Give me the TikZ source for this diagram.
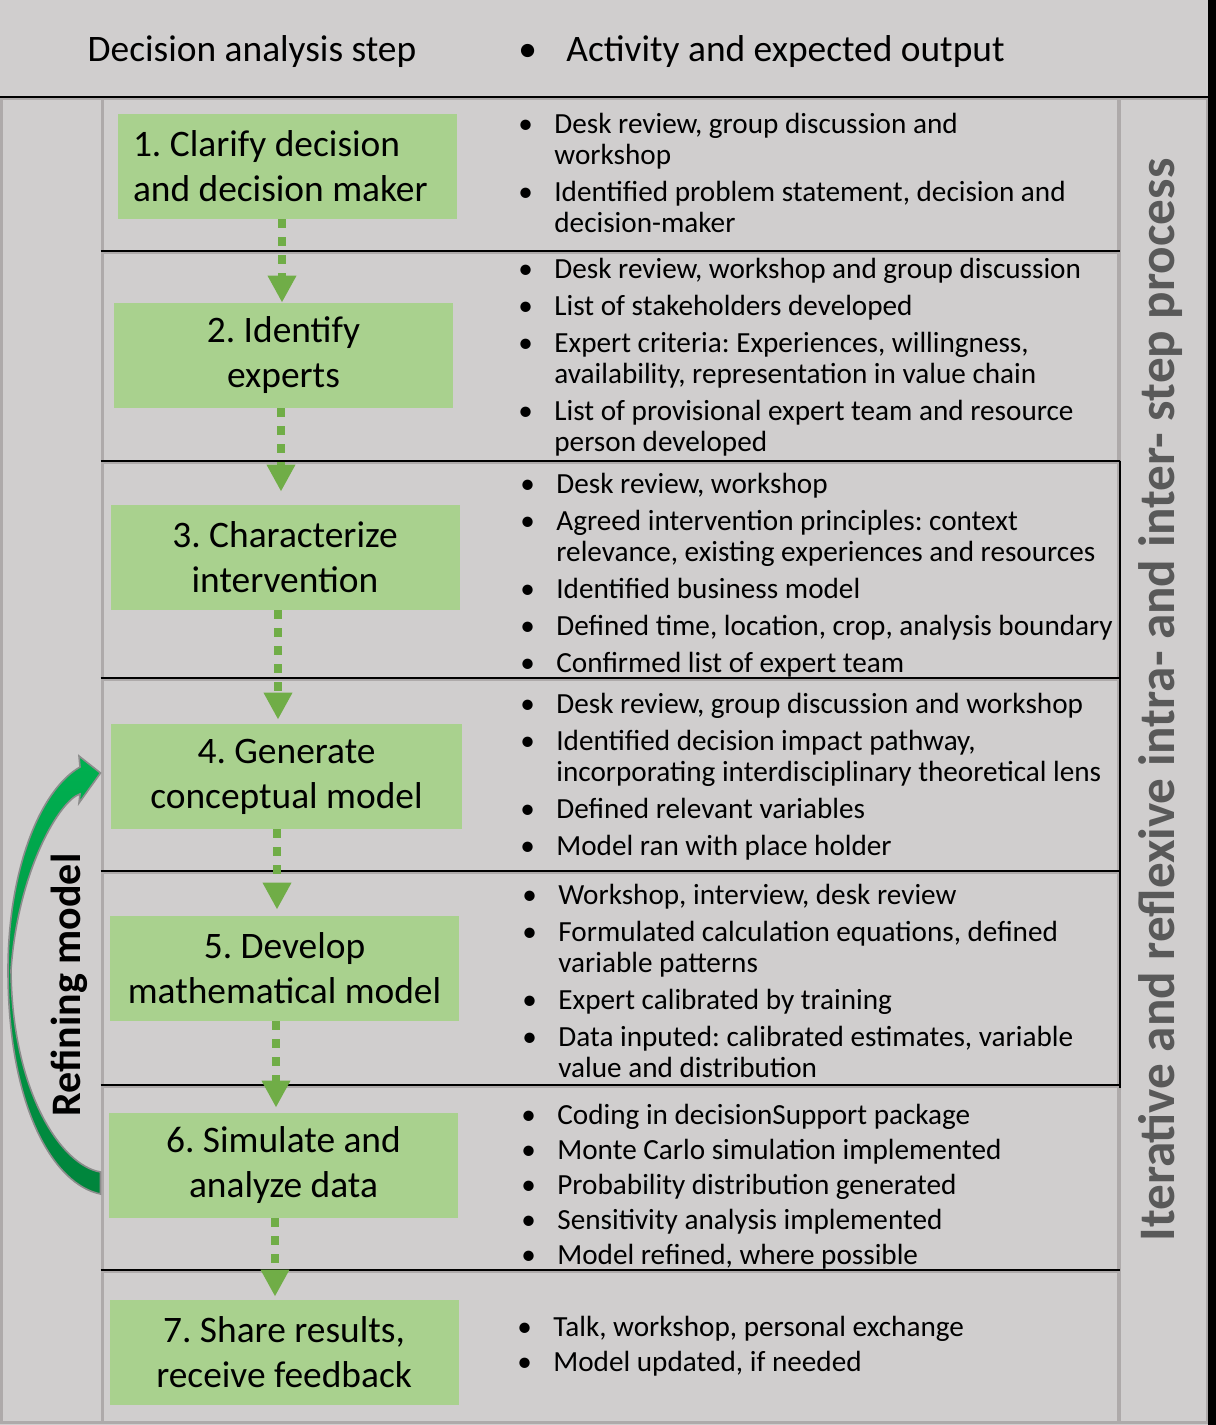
\documentclass[tikz,border=0pt]{standalone}
\usepackage{fontspec}
\setmainfont{Carlito}
\usetikzlibrary{arrows.meta}
\frenchspacing

\definecolor{bggray}{HTML}{D0CECE}
\definecolor{rowgray}{HTML}{AEAAAA}
\definecolor{stepgreen}{HTML}{A9D18E}
\definecolor{flowgreen}{HTML}{70AD47}
\definecolor{refinetop}{HTML}{00B050}
\definecolor{refinebot}{HTML}{00843C}
\definecolor{shadowgray}{HTML}{8C8C8C}
\definecolor{sidegray}{HTML}{595959}

% bullet lines in the activity column
\newcommand{\blf}{\noindent\hangindent=18pt\hangafter=1\makebox[18pt][l]{\textbullet}\ignorespaces}
\newcommand{\bl}[1][3pt]{\par\vspace{#1}\blf}

\begin{document}
\begin{tikzpicture}[x=0.5pt, y=-0.5pt, font=\fontsize{18.7}{22.5}\selectfont]

% Styles
\tikzset{
  rowbox/.style={
    draw=rowgray,
    line width=1.5pt,
    minimum width=508pt,
    inner sep=0pt
  },
  colbox/.style={
    draw=rowgray,
    line width=1.5pt,
    minimum height=662pt,
    inner sep=0pt
  },
  stepbox/.style={
    fill=stepgreen,
    minimum width=174.5pt,
    minimum height=52.5pt,
    align=center,
    inner sep=0pt
  },
  acts/.style={
    anchor=base west,
    inner sep=0pt,
    text width=330pt,
    align=flush left,
    font=\fontsize{14.6}{15.5}\selectfont
  },
  flow/.style={
    draw=flowgreen,
    line width=4.3pt,
    dash pattern=on 4.2pt off 4.8pt,
    -{Triangle[length=13.5pt, width=13.5pt]}
  },
  sepline/.style={
    black,
    line width=1pt
  },
  refine/.style={
    top color=refinetop,
    bottom color=refinebot,
    draw=shadowgray,
    line width=0.8pt
  }
}

% Page and background
\useasboundingbox (0,0) rectangle (1216,1425);
\fill[bggray] (0,0) rectangle (1216,1425);

% Header
\node[minimum width=604pt, minimum height=48.5pt, inner sep=0pt] (hdr) at (604,48.5) {};
\node[anchor=base, inner sep=0pt] (hstep) at (252,61) {Decision analysis step};
\node[anchor=base west, inner sep=0pt] (hact) at (518,61) {\makebox[24pt][l]{\textbullet}Activity and expected output};

% Side columns
\node[colbox, minimum width=50.5pt] (lcol) at (51.5,760) {};
\node[colbox, minimum width=44pt] (rcol) at (1163,760) {};

% Rows of the table
\node[rowbox, minimum height=77pt] (r1) at (610,175) {};
\node[rowbox, minimum height=105pt] (r2) at (610,357) {};
\node[rowbox, minimum height=108.5pt] (r3) at (610,570.5) {};
\node[rowbox, minimum height=96.5pt] (r4) at (610,775.5) {};
\node[rowbox, minimum height=107pt] (r5) at (610,979) {};
\node[rowbox, minimum height=92.5pt] (r6) at (610,1178.5) {};
\node[rowbox, minimum height=75.5pt] (r7) at (610,1346.5) {};

% Black rules
\draw[sepline] (hdr.south west) -- (hdr.south east);
\draw[sepline] (r2.north west) -- (r2.north east);
\draw[sepline] (r3.north west) -- (r3.north east);
\draw[sepline] (r4.north west) -- (r4.north east);
\draw[sepline] (r5.north west) -- (r5.north east);
\draw[sepline] (r6.north west) -- (r6.north east);
\draw[sepline] (r7.north west) -- (r7.north east);
\draw[sepline] (r3.north east) -- (r5.south east);
\fill[black] (1208,0) rectangle (1216,1425);

% Decision analysis steps
\node[stepbox, minimum width=169.5pt, align=flush left, text width=154.5pt] (s1) at (287.5,166.5) {1. Clarify decision\\and decision maker};
\node[stepbox, minimum width=169.5pt] (s2) at (283.5,355.5) {2. Identify\\experts};
\node[stepbox] (s3) at (285,557.5) {3. Characterize\\intervention};
\node[stepbox, minimum width=175.5pt] (s4) at (286.5,776.5) {4. Generate\\conceptual model};
\node[stepbox] (s5) at (284.5,968.5) {5. Develop\\mathematical model};
\node[stepbox] (s6) at (283.5,1165.5) {6. Simulate and\\analyze data};
\node[stepbox] (s7) at (284,1352.5) {7. Share results,\\receive feedback};

% Step to step flow
\draw[flow] ([xshift=-2.75pt]s1.south) -- ([xshift=-2.75pt]s1.south |- s2.north);
\draw[flow, shorten >=6.5pt] ([xshift=-1.25pt]s2.south) -- ([xshift=-1.25pt]s2.south |- s3.north);
\draw[flow, shorten >=2pt] ([xshift=-3.5pt]s3.south) -- ([xshift=-3.5pt]s3.south |- s4.north);
\draw[flow, shorten >=3pt] ([xshift=-4.75pt]s4.south) -- ([xshift=-4.75pt]s4.south |- s5.north);
\draw[flow, shorten >=2.5pt] ([xshift=-4.25pt]s5.south) -- ([xshift=-4.25pt]s5.south |- s6.north);
\draw[flow, shorten >=1.5pt] ([xshift=-4.25pt]s6.south) -- ([xshift=-4.25pt]s6.south |- s7.north);

% Refining loop from step 6 back to step 4
\coordinate (tailout) at ([yshift=-7.75pt]r6.west);
\coordinate (tailin) at ([yshift=3.25pt]r6.west);
\coordinate (tip) at ([yshift=1.25pt]r4.west);
\shadedraw[refine] (tailout) .. controls (55,1185) and (8,1110) .. (8,970)
  .. controls (8,870) and (40,790) .. (80,767) -- (79,756) -- (tip) -- (79,803) -- (80,794)
  .. controls (60,800) and (18,870) .. (11,970)
  .. controls (12,1090) and (60,1165) .. (tailin) -- cycle;
\node[rotate=90, inner sep=0pt, font=\bfseries\fontsize{21}{24}\selectfont] (refl) at (69,985) {Refining model};

% Side label
\node[rotate=90, inner sep=0pt, text=sidegray, font=\bfseries\fontsize{25.6}{28}\selectfont] (iter) at (1161,700) {Iterative and reflexive intra- and inter- step process};

% Activities and expected outputs
\node[acts] (a1) at (518,133) {\blf Desk review, group discussion and\newline workshop
  \bl Identified problem statement, decision and\newline decision-maker\par};
\node[acts] (a2) at (518,278) {\blf Desk review, workshop and group discussion
  \bl List of stakeholders developed
  \bl Expert criteria: Experiences, willingness,\newline availability, representation in value chain
  \bl List of provisional expert team and resource\newline person developed\par};
\node[acts] (a3) at (520,493) {\blf Desk review, workshop
  \bl Agreed intervention principles: context\newline relevance, existing experiences and resources
  \bl Identified business model
  \bl Defined time, location, crop, analysis boundary
  \bl Confirmed list of expert team\par};
\node[acts] (a4) at (520,713) {\blf Desk review, group discussion and workshop
  \bl Identified decision impact pathway,\newline incorporating interdisciplinary theoretical lens
  \bl Defined relevant variables
  \bl Model ran with place holder\par};
\node[acts] (a5) at (522,904) {\blf Workshop, interview, desk review
  \bl Formulated calculation equations, defined\newline variable patterns
  \bl Expert calibrated by training
  \bl Data inputed: calibrated estimates, variable\newline value and distribution\par};
\node[acts] (a6) at (521,1124) {\blf Coding in decisionSupport package
  \bl[2pt] Monte Carlo simulation implemented
  \bl[2pt] Probability distribution generated
  \bl[2pt] Sensitivity analysis implemented
  \bl[2pt] Model refined, where possible\par};
\node[acts] (a7) at (517,1336) {\blf Talk, workshop, personal exchange
  \bl[2pt] Model updated, if needed\par};

\end{tikzpicture}
\end{document}
